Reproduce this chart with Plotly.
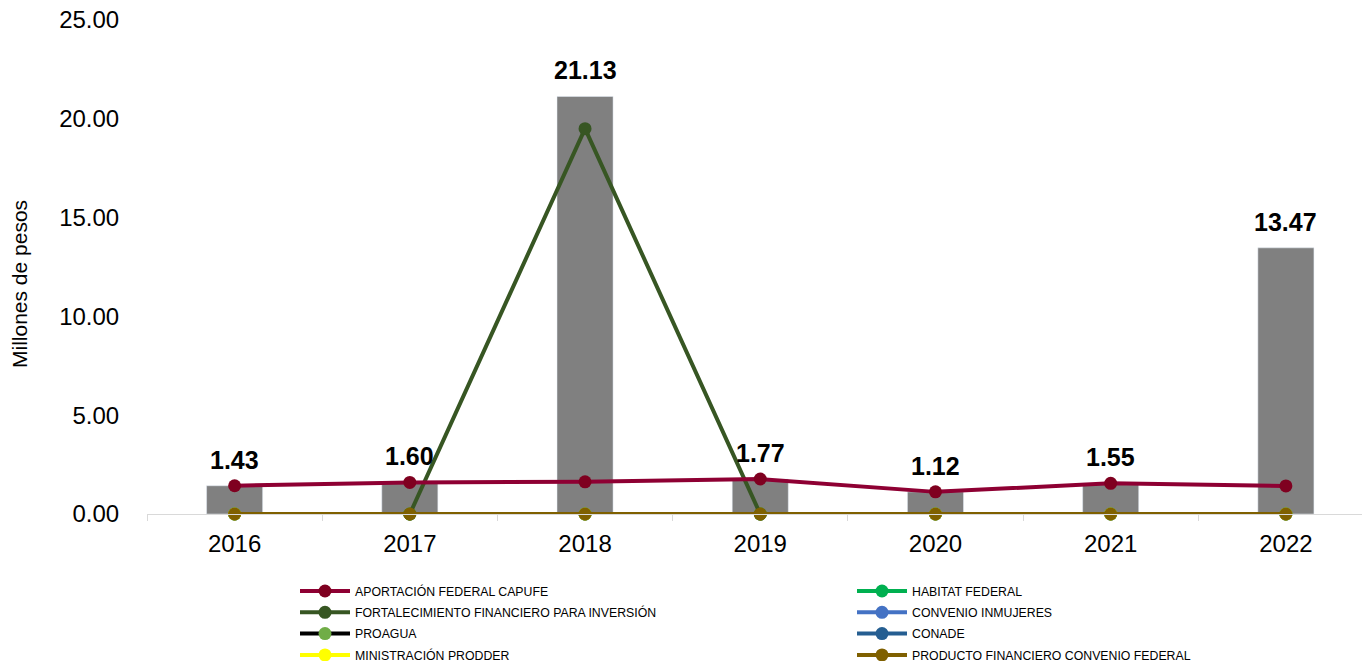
import plotly.graph_objects as go

years = ["2016", "2017", "2018", "2019", "2020", "2021", "2022"]
totals = [1.43, 1.60, 21.13, 1.77, 1.12, 1.55, 13.47]

capufe = [1.43, 1.60, 1.63, 1.77, 1.12, 1.55, 1.42]
habitat = [0, 0, 0, 0, 0, 0, 0]
fortalecimiento = [None, 0, 19.50, 0, None, None, None]
inmujeres = [0, 0, 0, 0, 0, 0, 0]
proagua = [0, 0, 0, 0, 0, 0, 0]
conade = [0, 0, 0, 0, 0, 0, 0]
prodder = [0, 0, 0, 0, 0, 0, 0]
producto = [0, 0, 0, 0, 0, 0, 0]

# (name, values, line colour, marker colour, legend column, legend row)
series = [
    ("HABITAT FEDERAL", habitat, "#00B050", "#00B050", 1, 0),
    ("CONVENIO INMUJERES", inmujeres, "#4472C4", "#4472C4", 1, 1),
    ("PROAGUA", proagua, "#000000", "#70AD47", 0, 2),
    ("CONADE", conade, "#255E91", "#255E91", 1, 2),
    ("MINISTRACIÓN PRODDER", prodder, "#FFFF00", "#FFFF00", 0, 3),
    ("FORTALECIMIENTO FINANCIERO PARA INVERSIÓN", fortalecimiento, "#375623", "#375623", 0, 1),
    ("APORTACIÓN FEDERAL CAPUFE", capufe, "#8E0033", "#7F0020", 0, 0),
    ("PRODUCTO FINANCIERO CONVENIO FEDERAL", producto, "#7F6000", "#7F6000", 1, 3),
]

font = "Liberation Sans, Arial, sans-serif"
W, H = 1362, 653  # page adds an 8px body margin
L, T, B = 139, 12, 147
pw, ph = W - L, H - T - B

fig = go.Figure()
fig.add_trace(go.Bar(x=years, y=totals, marker_color="#808080", width=0.32,
                     showlegend=False, hoverinfo="y"))

legends = {}
for k, (name, vals, lc, mc, col, row) in enumerate(series):
    lg = "legend" if k == 0 else f"legend{k + 1}"
    fig.add_trace(go.Scatter(x=years, y=vals, name=name, mode="lines+markers",
                             line=dict(color=lc, width=4),
                             marker=dict(color=mc, size=13),
                             legend=lg, connectgaps=False, cliponaxis=False))
    lx = 287 + col * 557
    ly = 568.5 + row * 21.3
    legends[lg] = dict(x=(lx - L) / pw, y=(H - B - ly) / ph,
                       xanchor="left", yanchor="top", font=dict(size=12.3),
                       itemwidth=50, bgcolor="rgba(0,0,0,0)")

for i, t in enumerate(totals):
    fig.add_annotation(x=i, y=t, text=f"<b>{t:.2f}</b>", showarrow=False,
                       yshift=26, font=dict(size=25, color="black", family=font))

# y axis title, placed like the original (slightly below centre)
fig.add_annotation(xref="paper", yref="paper", x=(12 - L) / pw, y=(H - B - 276) / ph,
                   xanchor="center", yanchor="middle",
                   text="Millones de pesos", textangle=-90, showarrow=False,
                   font=dict(size=21, color="black", family=font))

fig.update_layout(
    width=W, height=H,
    margin=dict(l=L, r=0, t=T, b=B, autoexpand=False),
    plot_bgcolor="white", paper_bgcolor="white",
    font=dict(family=font, color="black"),
    xaxis=dict(type="category", range=[-0.5, 6.48], showline=True,
               linecolor="#D9D9D9", linewidth=1, ticks="outside",
               tickson="boundaries", ticklen=6, tickcolor="#D9D9D9",
               ticklabelstandoff=8, tickfont=dict(size=24), showgrid=False),
    yaxis=dict(range=[0, 25], dtick=5, tickformat=".2f", showgrid=False,
               zeroline=False, tickfont=dict(size=24), ticks="outside",
               ticklen=22, tickcolor="rgba(0,0,0,0)", ticklabeloverflow="allow"),
    bargap=0.68,
    **legends,
)

fig.write_html("out.html")
